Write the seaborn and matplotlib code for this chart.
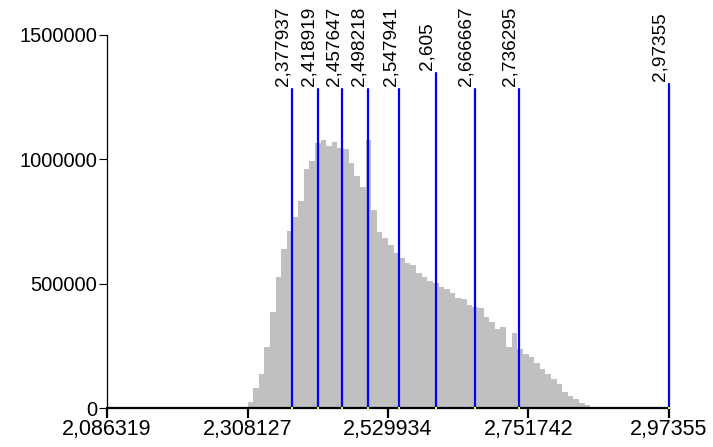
import numpy as np
import pandas as pd
import matplotlib
matplotlib.use("Agg")
import matplotlib.pyplot as plt
import matplotlib.transforms as mtransforms
import seaborn as sns

# ---------------- data ----------------
x_min = 2.086319
x_max = 2.97355
n_bins = 100
first_bin = 24  # index of the first non-empty bin
counts = [
    5000, 25000, 79000, 135000, 245000, 387000, 528000, 639000, 712000, 767000,
    832000, 960000, 993000, 1064000, 1078000, 1053000, 1071000, 1044000, 1041000, 984000,
    933000, 887000, 1078000, 796000, 706000, 682000, 655000, 622000, 604000, 582000,
    575000, 544000, 528000, 512000, 501000, 485000, 477000, 461000, 444000, 437000,
    413000, 405000, 401000, 365000, 346000, 318000, 324000, 247000, 300000, 236000,
    217000, 204000, 180000, 155000, 135000, 115000, 95000, 64000, 49000, 35000,
    20000, 13000, 4000, 4000,
]
marker_values = [2.377937, 2.418919, 2.457647, 2.498218, 2.547941,
                 2.605, 2.666667, 2.736295, 2.97355]
marker_labels = ["2,377937", "2,418919", "2,457647", "2,498218", "2,547941",
                 "2,605", "2,666667", "2,736295", "2,97355"]
x_ticks = [2.086319, 2.308127, 2.529934, 2.751742, 2.97355]
x_tick_labels = ["2,086319", "2,308127", "2,529934", "2,751742", "2,97355"]
y_ticks = [0, 500000, 1000000, 1500000]
y_tick_labels = ["0", "500000", "1000000", "1500000"]

# ---------------- style ----------------
sns.set_theme(style="white")
plt.rcParams["font.family"] = ["Liberation Sans", "DejaVu Sans"]

edges = np.linspace(x_min, x_max, n_bins + 1)
centers = (edges[:-1] + edges[1:]) / 2
idx = np.arange(first_bin, first_bin + len(counts))
df = pd.DataFrame({"x": centers[idx], "count": counts})

fig = plt.figure(figsize=(7.13, 4.47), dpi=100)
W, H = 713, 447
ax = fig.add_axes([107 / W, 39 / H, 562 / W, 373 / H])

sns.histplot(data=df, x="x", weights="count", bins=n_bins,
             binrange=(x_min, x_max), color="#c0c0c0",
             alpha=1, linewidth=0, edgecolor="none", ax=ax)

ax.set_xlim(x_min, x_max)
ax.set_ylim(0, 1500000)
ax.set_xlabel("")
ax.set_ylabel("")
for s in ("top", "right"):
    ax.spines[s].set_visible(False)
ax.spines["left"].set_color("black")
ax.spines["left"].set_linewidth(0.9)
ax.spines["bottom"].set_color("black")
ax.spines["bottom"].set_linewidth(1.6)
ax.spines["bottom"].set_zorder(4)

ax.set_xticks(x_ticks)
ax.set_xticklabels(x_tick_labels)
ax.set_yticks(y_ticks)
ax.set_yticklabels(y_tick_labels)
ax.tick_params(axis="x", bottom=True, direction="out", length=7, width=1.6,
               labelsize=15.5, pad=1, colors="black")
ax.tick_params(axis="y", left=True, direction="out", length=6, width=0.8,
               labelsize=14.5, pad=1, colors="black")
ax.grid(False)

# marker labels above the plot
trans = mtransforms.blended_transform_factory(ax.transData, ax.transAxes)
label_y = (408 - 46.5) / 373
texts = []
for v, lab in zip(marker_values, marker_labels):
    t = ax.text(v, label_y, lab, rotation=90, ha="right", va="center",
                fontsize=13.7, color="black", transform=trans, clip_on=False)
    texts.append(t)

fig.canvas.draw()
renderer = fig.canvas.get_renderer()
inv = ax.transAxes.inverted()
for v, t in zip(marker_values, texts):
    bb = t.get_window_extent(renderer)
    top = inv.transform((0, bb.y0 - 3))[1]
    ax.axvline(v, ymin=0, ymax=top, color="#0000ff", linewidth=1.6,
               clip_on=False, zorder=3)

ax.scatter(marker_values, np.zeros(len(marker_values)), s=3, marker="s",
           color="#ffff00", linewidths=0, zorder=6, clip_on=False)

fig.savefig("out.png", dpi=100)
